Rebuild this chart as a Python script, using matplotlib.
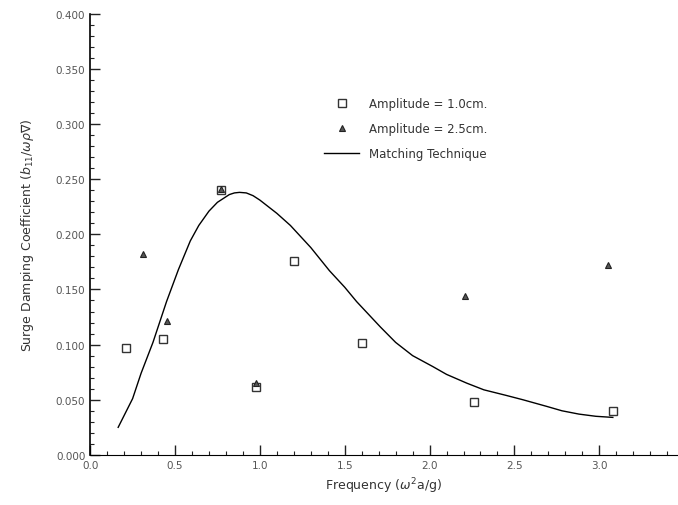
import matplotlib
matplotlib.use("Agg")
import matplotlib.pyplot as plt
from matplotlib.ticker import MultipleLocator, FormatStrFormatter

# measured points, amplitude 1.0 cm (squares)
sq_freq = [0.21, 0.43, 0.77, 0.98, 1.20, 1.60, 2.26, 3.08]
sq_coef = [0.097, 0.105, 0.240, 0.062, 0.176, 0.101, 0.048, 0.040]

# measured points, amplitude 2.5 cm (triangles)
tri_freq = [0.31, 0.45, 0.77, 0.98, 2.21, 3.05]
tri_coef = [0.182, 0.121, 0.241, 0.065, 0.144, 0.172]

# matching technique curve
curve_freq = [0.165, 0.25, 0.30, 0.37, 0.45, 0.52, 0.59, 0.64, 0.70, 0.75,
              0.78, 0.82, 0.85, 0.88, 0.92, 0.96, 1.00, 1.05, 1.10, 1.18,
              1.30, 1.41, 1.50, 1.57, 1.71, 1.80, 1.90, 2.02, 2.10, 2.22,
              2.32, 2.45, 2.55, 2.69, 2.78, 2.88, 2.98, 3.08]
curve_coef = [0.025, 0.051, 0.074, 0.102, 0.139, 0.168, 0.194, 0.208, 0.221, 0.229,
              0.232, 0.236, 0.2375, 0.238, 0.2375, 0.235, 0.231, 0.225, 0.219, 0.208,
              0.188, 0.167, 0.152, 0.139, 0.116, 0.102, 0.090, 0.080, 0.073, 0.065,
              0.059, 0.054, 0.050, 0.044, 0.040, 0.037, 0.035, 0.034]

fig = plt.figure(figsize=(6.78, 5.06), dpi=100)
ax = fig.add_axes([0.133, 0.099, 0.866, 0.872])

ax.plot(curve_freq, curve_coef, color="black", linewidth=1.0, label="Matching Technique")
ax.plot(sq_freq, sq_coef, linestyle="none", marker="s", markersize=5.5,
        markerfacecolor="none", markeredgecolor="#333333", markeredgewidth=1.0,
        label="Amplitude = 1.0cm.")
ax.plot(tri_freq, tri_coef, linestyle="none", marker="^", markersize=5,
        markerfacecolor="#555555", markeredgecolor="#222222", markeredgewidth=0.8,
        label="Amplitude = 2.5cm.")

ax.set_xlim(0, 3.46)
ax.set_ylim(0, 0.4)

ax.xaxis.set_major_locator(MultipleLocator(0.5))
ax.xaxis.set_minor_locator(MultipleLocator(0.1))
ax.yaxis.set_major_locator(MultipleLocator(0.05))
ax.yaxis.set_minor_locator(MultipleLocator(0.01))
ax.xaxis.set_major_formatter(FormatStrFormatter("%.1f"))
ax.yaxis.set_major_formatter(FormatStrFormatter("%.3f"))

ax.tick_params(which="both", direction="in", color="#222222", labelcolor="#555555",
               labelsize=7.5)
ax.tick_params(which="major", length=7, width=1.0)
ax.tick_params(which="minor", length=3, width=0.8)

ax.spines["top"].set_visible(False)
ax.spines["right"].set_visible(False)
ax.spines["left"].set_linewidth(1.2)
ax.spines["bottom"].set_linewidth(0.8)

ax.set_xlabel(r"Frequency ($\omega^2$a/g)", fontsize=9, color="#333333")
ax.set_ylabel(r"Surge Damping Coefficient ($b_{11}/\omega\rho\nabla$)", fontsize=9,
              color="#333333", labelpad=14)

handles, labels = ax.get_legend_handles_labels()
order = [1, 2, 0]
leg = ax.legend([handles[i] for i in order], [labels[i] for i in order],
                loc="upper left", bbox_to_anchor=(0.38, 0.835), frameon=False,
                fontsize=8.5, handlelength=3.0, labelspacing=1.0)
for t in leg.get_texts():
    t.set_color("#333333")

fig.savefig("out.png", dpi=100)
